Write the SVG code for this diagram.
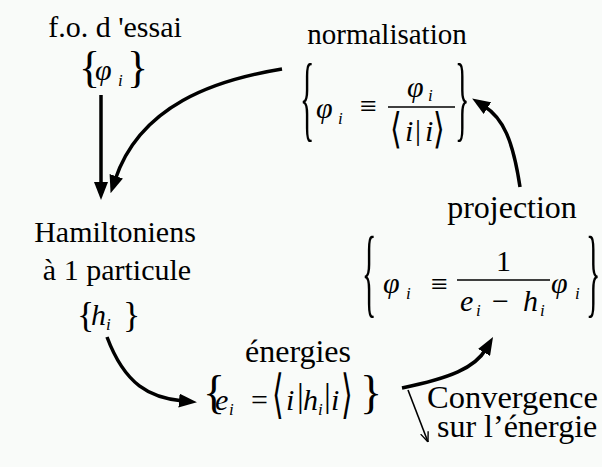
<svg xmlns="http://www.w3.org/2000/svg" width="602" height="467" viewBox="0 0 602 467">
<defs>
<style>
text{font-family:"Liberation Serif","Times New Roman",serif;fill:#000}
.lbl{font-size:30px;text-anchor:middle}
.m{font-style:italic;font-size:30px}
.s{font-style:italic;font-size:17px}
.u{font-size:30px}
.ang{font-family:"DejaVu Serif","Liberation Serif",serif;font-size:30px}
.c{fill:none;stroke:#000;stroke-width:3.5}
.thin{fill:none;stroke:#000;stroke-width:1.6}
.fr{stroke:#000;stroke-width:1.6}
</style>
<marker id="ah" viewBox="0 0 18 14" markerUnits="userSpaceOnUse" markerWidth="18" markerHeight="14" refX="4" refY="7" orient="auto">
<path d="M0,0 L18,7 L0,14 z" fill="#000"/>
</marker>
<marker id="ahs" viewBox="0 0 10 10" markerUnits="userSpaceOnUse" markerWidth="10" markerHeight="10" refX="10" refY="5" orient="auto">
<path d="M0,1 L10,5 L0,9" fill="none" stroke="#000" stroke-width="1.4"/>
</marker>
</defs>
<rect width="602" height="467" fill="#f9fbf9"/>

<g id="connectors">
<line class="c" x1="101" y1="95" x2="101" y2="186" marker-end="url(#ah)"/>
<path class="c" d="M282,69 C215,80 140,105 115,180" marker-end="url(#ah)"/>
<path class="c" d="M107,337 C125,385 150,398 183,401" marker-end="url(#ah)"/>
<path class="c" d="M402,388 C450,378 475,368 486,349" marker-end="url(#ah)"/>
<path class="c" d="M520,187 C513,140 503,118 484,106" marker-end="url(#ah)"/>
<path class="thin" d="M408,390 L428,442" marker-end="url(#ahs)"/>
</g>

<g id="trial">
<text class="lbl" x="115" y="37">f.o. d 'essai</text>
<text x="79" y="82" style="font-size:44px">{</text>
<text class="m" x="95" y="80">φ</text>
<text class="s" x="118" y="86">i</text>
<text x="127" y="82" style="font-size:44px">}</text>
</g>

<g id="hamiltoniens">
<text class="lbl" x="115" y="242">Hamiltoniens</text>
<text class="lbl" x="117" y="280">à 1 particule</text>
<text x="77" y="327" style="font-size:36px">{</text>
<text class="m" x="91" y="325">h</text>
<text class="s" x="106" y="330">i</text>
<text x="123" y="327" style="font-size:36px">}</text>
</g>

<g id="energies">
<text class="lbl" x="298" y="362" style="font-size:32px">énergies</text>
<text x="203" y="408" style="font-size:46px">{</text>
<text class="m" x="215" y="410">e</text>
<text class="s" x="229" y="415">i</text>
<text class="u" x="251" y="410">=</text>
<text class="ang" x="0" y="8" transform="translate(272,398) scale(1,1.75)">⟨</text>
<text class="m" x="286" y="410">i</text>
<text x="297" y="407" style="font-size:34px">|</text>
<text class="m" x="303" y="410">h</text>
<text class="s" x="318" y="415">i</text>
<text x="324" y="407" style="font-size:34px">|</text>
<text class="m" x="331" y="410">i</text>
<text class="ang" x="0" y="8" transform="translate(341,398) scale(1,1.75)">⟩</text>
<text x="360" y="408" style="font-size:46px">}</text>
</g>

<g id="normalisation">
<text class="lbl" x="387" y="44" style="font-size:29px">normalisation</text>
<text x="0" y="7" transform="translate(300,106.5) scale(1,3.2)" style="font-size:30px">{</text>
<text class="m" x="316" y="118">φ</text>
<text class="s" x="338" y="124">i</text>
<text class="u" x="360" y="116">≡</text>
<line class="fr" x1="388" y1="107" x2="455" y2="107"/>
<text class="m" x="407" y="97">φ</text>
<text class="s" x="428" y="101">i</text>
<text class="ang" x="0" y="8" transform="translate(390,132) scale(1,1.4)">⟨</text>
<text class="m" x="405" y="141">i</text>
<text class="u" x="415" y="140">|</text>
<text class="m" x="425" y="141">i</text>
<text class="ang" x="0" y="8" transform="translate(433,132) scale(1,1.4)">⟩</text>
<text x="0" y="7" transform="translate(455,106.5) scale(1,3.2)" style="font-size:30px">}</text>
</g>

<g id="projection">
<text class="lbl" x="512" y="218" style="font-size:32px">projection</text>
<text x="0" y="7" transform="translate(362,282) scale(1,3.3)" style="font-size:30px">{</text>
<text class="m" x="383" y="293">φ</text>
<text class="s" x="406" y="299">i</text>
<text class="u" x="431" y="294">≡</text>
<line class="fr" x1="457" y1="280" x2="550" y2="280"/>
<text class="u" x="496" y="271">1</text>
<text class="m" x="460" y="311">e</text>
<text class="s" x="476" y="316">i</text>
<text class="u" x="492" y="311">−</text>
<text class="m" x="523" y="311">h</text>
<text class="s" x="540" y="316">i</text>
<text class="m" x="551" y="293">φ</text>
<text class="s" x="575" y="299">i</text>
<text x="0" y="7" transform="translate(586,282) scale(1,3.3)" style="font-size:30px">}</text>
</g>

<g id="convergence">
<text x="427" y="408" style="font-size:32.5px">Convergence</text>
<text x="437" y="437" style="font-size:32px">sur l’énergie</text>
</g>
</svg>
